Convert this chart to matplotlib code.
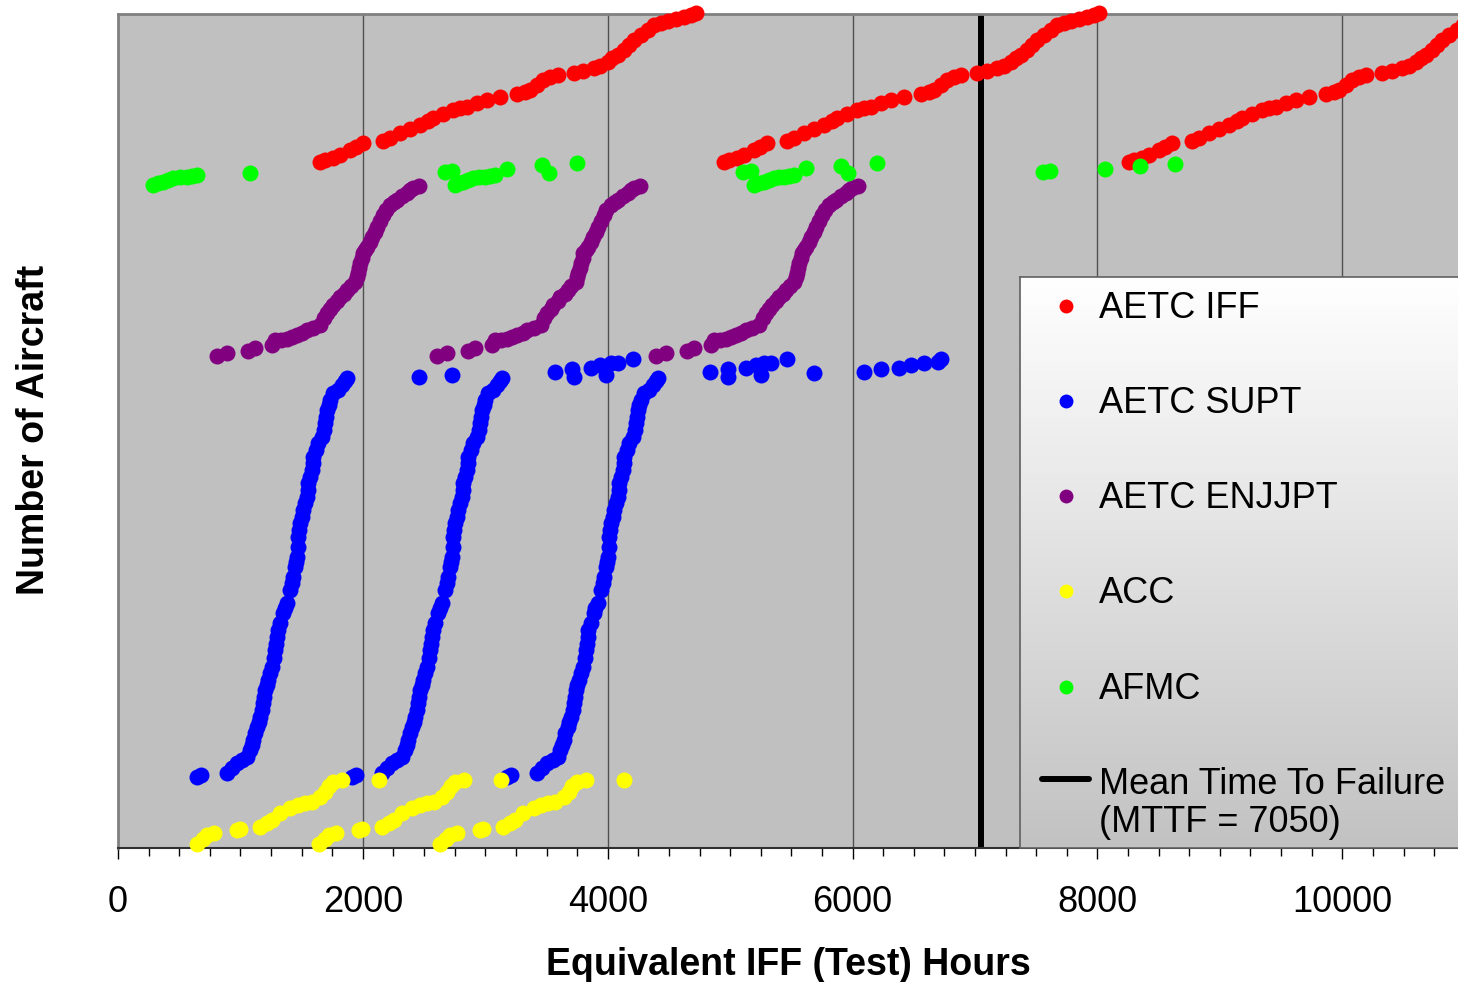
import matplotlib
matplotlib.use('Agg')
import matplotlib.pyplot as plt
from matplotlib.colors import LinearSegmentedColormap
from matplotlib.ticker import MultipleLocator
import numpy as np

plt.rcParams['font.family'] = ['Liberation Sans', 'DejaVu Sans']

# ---------------- data (hours, number of aircraft) ----------------
iff_x = [1652, 1693, 1758, 1815, 1897, 1946, 2003, 2167, 2224, 2306, 2388, 2469, 2535, 2576, 2658, 2740,
         2797, 2854, 2936, 3018, 3124, 3263, 3328, 3369, 3426, 3475, 3532, 3590, 3721, 3802, 3884, 3941,
         3999, 4039, 4080, 4129, 4170, 4211, 4268, 4326, 4375, 4432, 4489, 4555, 4620, 4677, 4718,
         4947, 4988, 5053, 5110, 5192, 5241, 5298, 5462, 5519, 5601, 5683, 5764, 5830, 5871, 5953, 6035,
         6092, 6149, 6231, 6313, 6419, 6558, 6623, 6664, 6721, 6770, 6827, 6885, 7016, 7097, 7179, 7236,
         7294, 7334, 7375, 7424, 7465, 7506, 7563, 7621, 7670, 7727, 7784, 7850, 7915, 7972, 8013,
         8259, 8300, 8365, 8422, 8504, 8553, 8610, 8774, 8831, 8913, 8995, 9076, 9142, 9183, 9265, 9347,
         9404, 9461, 9543, 9625, 9731, 9870, 9935, 9976, 10033, 10082, 10139, 10197, 10328, 10409, 10491, 10548,
         10606, 10646, 10687, 10736, 10777, 10818, 10875, 10933, 10982, 11039, 11096, 11162, 11227, 11284, 11325]
iff_seg_y = [686, 688, 690, 693, 698, 701, 705, 707, 710, 715, 719, 723, 727, 730, 734, 738,
             740, 741, 745, 748, 751, 754, 756, 758, 763, 768, 771, 773, 775, 777, 780, 782,
             786, 790, 793, 798, 803, 808, 813, 818, 823, 825, 827, 829, 831, 833, 835]
iff_y = iff_seg_y + iff_seg_y + iff_seg_y

supt_x = [646, 679, 891, 932, 973, 1014, 1055, 1079, 1092, 1104, 1120, 1137, 1149, 1161, 1178, 1186, 1194, 1202,
          1218, 1227, 1243, 1259, 1276, 1284, 1292, 1300, 1308, 1325, 1349, 1365, 1382, 1407, 1423, 1431, 1447,
          1456, 1464, 1472, 1472, 1480, 1488, 1505, 1513, 1529, 1545, 1554, 1554, 1570, 1586, 1595, 1595, 1619,
          1635, 1668, 1684, 1693, 1701, 1709, 1721, 1734, 1758, 1799, 1832, 1856, 1873,
          1913, 1946, 2158, 2199, 2240, 2281, 2322, 2346, 2359, 2371, 2387, 2404, 2416, 2428, 2445, 2453, 2461, 2469,
          2485, 2494, 2510, 2526, 2543, 2551, 2559, 2567, 2575, 2592, 2616, 2632, 2649, 2674, 2690, 2698, 2714,
          2723, 2731, 2739, 2739, 2747, 2755, 2772, 2780, 2796, 2812, 2821, 2821, 2837, 2853, 2862, 2862, 2886,
          2902, 2935, 2951, 2960, 2968, 2976, 2988, 3001, 3025, 3066, 3099, 3123, 3140,
          3181, 3214, 3426, 3467, 3508, 3549, 3590, 3614, 3627, 3639, 3655, 3672, 3684, 3696, 3713, 3721, 3729, 3737,
          3753, 3762, 3778, 3794, 3811, 3819, 3827, 3835, 3843, 3860, 3884, 3900, 3917, 3942, 3958, 3966, 3982,
          3991, 3999, 4007, 4007, 4015, 4023, 4040, 4048, 4064, 4080, 4089, 4089, 4105, 4121, 4130, 4130, 4154,
          4170, 4203, 4219, 4228, 4236, 4244, 4256, 4269, 4293, 4334, 4367, 4391, 4408]
supt_seg_y = [71, 73, 75, 80, 85, 88, 91, 98, 103, 108, 115, 121, 126, 131, 138, 145, 151, 158,
              163, 168, 175, 181, 190, 198, 204, 211, 218, 225, 235, 240, 245, 258, 265, 271, 281,
              286, 291, 301, 311, 318, 325, 331, 338, 345, 351, 358, 365, 371, 378, 385, 391, 398,
              405, 411, 418, 425, 431, 438, 443, 448, 455, 458, 463, 467, 470]
supt_tail_x = [2461, 2731, 3573, 3712, 3721, 3860, 3941, 3990, 4023, 4080, 4203,
               4833, 4980, 4980, 5127, 5209, 5250, 5274, 5331, 5462, 5683,
               6092, 6231, 6378, 6476, 6582, 6700, 6722]
supt_tail_y = [471, 473, 476, 479, 471, 480, 483, 473, 485, 485, 489,
               476, 479, 471, 480, 483, 473, 485, 485, 489, 475,
               476, 479, 480, 483, 485, 486, 489]
supt_x = supt_x + supt_tail_x
supt_y = supt_seg_y + supt_seg_y + supt_seg_y + supt_tail_y

enjjpt_x = [810, 891, 1063, 1120, 1259, 1284, 1333, 1382, 1423, 1464, 1505, 1545, 1595, 1652, 1684, 1709,
            1734, 1758, 1791, 1815, 1848, 1873, 1905, 1938, 1954, 1962, 1971, 1979, 1995, 2003, 2020, 2036,
            2061, 2077, 2102, 2118, 2143, 2167, 2191, 2224, 2257, 2281, 2322, 2363, 2388, 2412, 2461,
            2609, 2690, 2862, 2919, 3058, 3083, 3132, 3181, 3222, 3263, 3304, 3344, 3394, 3451, 3483, 3508,
            3533, 3557, 3590, 3614, 3647, 3672, 3704, 3737, 3753, 3761, 3770, 3778, 3794, 3802, 3819, 3835,
            3860, 3876, 3901, 3917, 3942, 3966, 3990, 4023, 4056, 4080, 4121, 4162, 4187, 4211, 4260,
            4392, 4473, 4645, 4702, 4841, 4866, 4915, 4964, 5005, 5046, 5087, 5127, 5177, 5234, 5266, 5291,
            5316, 5340, 5373, 5397, 5430, 5455, 5487, 5520, 5536, 5544, 5553, 5561, 5577, 5585, 5602, 5618,
            5643, 5659, 5684, 5700, 5725, 5749, 5773, 5806, 5839, 5863, 5904, 5945, 5970, 5994, 6043]
enjjpt_seg_y = [492, 495, 497, 500, 503, 508, 508, 509, 511, 513, 515, 518, 520, 523, 530, 535,
                539, 543, 547, 551, 554, 558, 562, 566, 571, 575, 580, 585, 590, 595, 598, 601,
                606, 611, 616, 621, 627, 633, 638, 643, 646, 648, 652, 655, 658, 660, 662]
enjjpt_y = enjjpt_seg_y + enjjpt_seg_y + enjjpt_seg_y

acc_x = [646, 695, 728, 785, 973, 998, 1161, 1218, 1259, 1325, 1407, 1472, 1529, 1586, 1652, 1693, 1725, 1758, 1832,
         1644, 1693, 1726, 1783, 1971, 1996, 2159, 2216, 2257, 2323, 2405, 2470, 2527, 2584, 2650, 2691, 2723, 2756, 2830,
         2633, 2682, 2715, 2772, 2960, 2985, 3148, 3205, 3246, 3312, 3394, 3459, 3516, 3573, 3639, 3680, 3712, 3745, 3819,
         2134, 3126, 4129]
acc_seg_y = [4, 9, 13, 15, 18, 19, 21, 25, 28, 35, 40, 43, 45, 46, 51, 56, 62, 66, 68]
acc_y = acc_seg_y + acc_seg_y + acc_seg_y + [68, 68, 68]

afmc_x = [286, 327, 368, 409, 450, 507, 564, 605, 646, 1079,
          2674, 2731, 2756, 2788, 2821, 2862, 2903, 2952, 3001, 3042, 3083, 3181, 3467, 3524, 3753,
          5102, 5168, 5192, 5233, 5274, 5315, 5356, 5397, 5438, 5479, 5519, 5618, 5904, 5961, 6198,
          7556, 7613, 8063, 8349, 8635]
afmc_y = [663, 665, 666, 668, 670, 671, 671, 672, 673, 675,
          676, 677, 663, 665, 666, 668, 670, 671, 671, 672, 673, 679, 683, 675, 685,
          676, 677, 663, 665, 666, 668, 670, 671, 671, 672, 673, 680, 682, 675, 685,
          676, 677, 679, 682, 684]

mttf = 7050

series_names = ['AETC IFF', 'AETC SUPT', 'AETC ENJJPT', 'ACC', 'AFMC']
series_colors = ['#FF0000', '#0000FF', '#800080', '#FFFF00', '#00FF00']
series_data = [(iff_x, iff_y), (supt_x, supt_y), (enjjpt_x, enjjpt_y), (acc_x, acc_y), (afmc_x, afmc_y)]
mttf_label = 'Mean Time To Failure\n(MTTF = 7050)'

x_major = [0, 2000, 4000, 6000, 8000, 10000]

# ---------------- figure ----------------
W, H = 1458, 982
fig = plt.figure(figsize=(W / 100, H / 100), dpi=100)
fig.patch.set_facecolor('white')

ax = fig.add_axes([118 / W, (H - 848) / H, (W - 118) / W, (848 - 14) / H])
ax.set_facecolor('#C0C0C0')
ax.set_xlim(0, 10945)
ax.set_ylim(0, 834)

ax.set_xticks(x_major)
ax.set_xticklabels([str(v) for v in x_major])
ax.xaxis.set_minor_locator(MultipleLocator(250))
ax.set_yticks([])
ax.tick_params(axis='x', which='major', direction='out', length=8, width=1, color='black',
               labelsize=26, pad=19)
ax.tick_params(axis='x', which='minor', direction='out', length=5.5, width=1, color='black')

for v in x_major[1:]:
    ax.axvline(v, color='#505050', lw=1.0, zorder=1)

for sp in ['top', 'left']:
    ax.spines[sp].set_color('#808080')
    ax.spines[sp].set_linewidth(2)
ax.spines['bottom'].set_color('#303030')
ax.spines['bottom'].set_linewidth(1.5)
ax.spines['right'].set_visible(False)

ax.axvline(mttf, color='black', lw=4.3, zorder=2.5, solid_capstyle='butt')

for (xs, ys), c in zip(series_data, series_colors):
    ax.plot(xs, ys, 'o', color=c, ms=11.5, mew=0, linestyle='none', clip_on=False, zorder=3)

ax.set_xlabel('Equivalent IFF (Test) Hours', fontsize=27, fontweight='bold', labelpad=19)
fig.text(44 / W, 1 - 430 / H, 'Number of Aircraft', rotation=90, rotation_mode='anchor',
         ha='center', va='baseline', fontsize=27, fontweight='bold')

# ---------------- legend (gradient box) ----------------
lax = fig.add_axes([1020 / W, (H - 848) / H, 445 / W, (848 - 277) / H])
lax.set_xlim(1020, 1465)
lax.set_ylim(848, 277)
grad = np.linspace(0, 1, 256).reshape(-1, 1)
cmap = LinearSegmentedColormap.from_list('lg', ['#FFFFFF', '#C2C2C2'])
lax.imshow(grad, extent=[1020, 1465, 848, 277], aspect='auto', cmap=cmap, origin='upper', zorder=0)
lax.set_xticks([])
lax.set_yticks([])
for sp in lax.spines.values():
    sp.set_color('#606060')
    sp.set_linewidth(1.2)

row_y = [306, 401, 496, 591, 687]
for name, c, yy in zip(series_names, series_colors, row_y):
    lax.plot([1066], [yy], 'o', color=c, ms=10, mew=0)
    lax.text(1099, yy + 12.5, name, fontsize=26, va='baseline', ha='left', color='black')
lax.plot([1042, 1089], [779, 779], color='black', lw=4.3, solid_capstyle='round')
l1, l2 = mttf_label.split('\n')
lax.text(1099, 794, l1, fontsize=26, va='baseline', ha='left', color='black')
lax.text(1099, 832, l2, fontsize=26, va='baseline', ha='left', color='black')

fig.savefig('out.png', dpi=100, facecolor='white')
